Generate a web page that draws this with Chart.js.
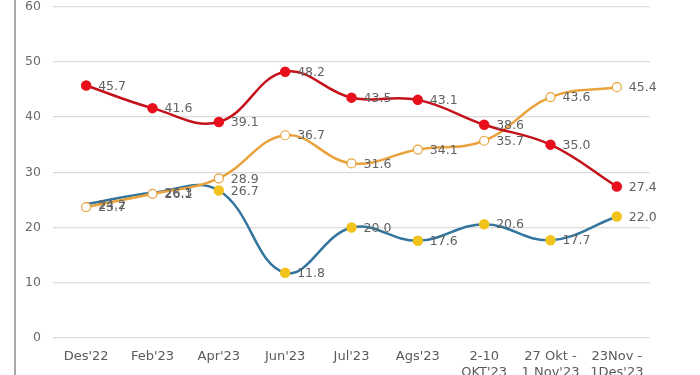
<!DOCTYPE html>
<html>
<head>
<meta charset="utf-8">
<script src="https://cdn.jsdelivr.net/npm/chart.js@4"></script>
<style>
  html, body { margin: 0; padding: 0; background: #fff; }
  #wrap { position: relative; width: 700px; height: 375px; overflow: hidden; }
</style>
</head>
<body>
<div id="wrap"><canvas id="grafica" width="700" height="375"></canvas></div>
<script>
// datos
const categorias = ["Des'22", "Feb'23", "Apr'23", "Jun'23", "Jul'23", "Ags'23",
    ["2-10", "OKT'23"], ["27 Okt -", "1 Nov'23"], ["23Nov -", "1Des'23"]];
const serieMerah = [45.7, 41.6, 39.1, 48.2, 43.5, 43.1, 38.6, 35.0, 27.4];
const serieOranye = [23.7, 26.1, 28.9, 36.7, 31.6, 34.1, 35.7, 43.6, 45.4];
const serieBiru = [24.2, 26.3, 26.7, 11.8, 20.0, 17.6, 20.6, 17.7, 22.0];
const ticksY = [0, 10, 20, 30, 40, 50, 60];

// etiquetas de valor a la derecha de cada punto
const etiquetas = {
    id: 'etiquetas',
    afterDatasetsDraw(chart) {
        const ctx = chart.ctx;
        ctx.save();
        ctx.font = '12.5px "DejaVu Sans"';
        ctx.fillStyle = '#626262';
        ctx.textBaseline = 'middle';
        ctx.textAlign = 'left';
        chart.data.datasets.forEach((ds, i) => {
            chart.getDatasetMeta(i).data.forEach((pt, j) => {
                ctx.fillText(ds.data[j].toFixed(1), pt.x + 12, pt.y + 1);
            });
        });
        ctx.restore();
    }
};

// linea gris vertical del borde izquierdo
const borde = {
    id: 'borde',
    beforeDraw(chart) {
        const ctx = chart.ctx;
        ctx.save();
        ctx.fillStyle = '#fff';
        ctx.fillRect(0, 0, chart.width, chart.height);
        ctx.fillStyle = '#a9a9a9';
        ctx.fillRect(14, 0, 2, chart.height);
        ctx.restore();
    }
};

const ctx = document.getElementById('grafica').getContext('2d');
new Chart(ctx, {
    type: 'line',
    data: {
        labels: categorias,
        datasets: [{
            data: serieMerah,
            borderColor: '#c4111a',
            pointBackgroundColor: '#e8101c',
            pointBorderColor: '#e8101c',
            pointRadius: 4,
            borderWidth: 2.5,
            tension: 0.4
        }, {
            data: serieOranye,
            borderColor: '#e9a23b',
            pointBackgroundColor: '#ffffff',
            pointBorderColor: '#e9a23b',
            pointBorderWidth: 1.2,
            pointRadius: 4.5,
            borderWidth: 2.5,
            tension: 0.4
        }, {
            data: serieBiru,
            borderColor: '#33759c',
            pointBackgroundColor: '#f2c31c',
            pointBorderColor: '#f2c31c',
            pointRadius: [0, 0, 4, 4, 4, 4, 4, 4, 4],
            borderWidth: 2.5,
            tension: 0.4
        }]
    },
    options: {
        responsive: false,
        animation: false,
        events: [],
        layout: { padding: { top: 6, right: 50, left: 0, bottom: 0 } },
        plugins: { legend: { display: false }, tooltip: { enabled: false } },
        scales: {
            x: {
                offset: true,
                grid: { display: false },
                border: { display: false },
                ticks: {
                    color: '#5a5a5a',
                    font: { family: 'DejaVu Sans', size: 13 },
                    padding: 3,
                    maxRotation: 0,
                    autoSkip: false
                },
                afterFit(scale) { scale.height = 37; }
            },
            y: {
                min: 0,
                max: 60,
                afterBuildTicks(scale) { scale.ticks = ticksY.map(v => ({ value: v })); },
                grid: { color: '#dcdcdc', lineWidth: 1.2, drawTicks: false },
                border: { display: false },
                ticks: {
                    color: '#6a6a6a',
                    font: { family: 'DejaVu Sans', size: 12.5 },
                    padding: 12
                },
                afterFit(scale) {
                    scale.width = 53;
                    scale.paddingTop = 0;
                    scale.paddingBottom = 0;
                }
            }
        }
    },
    plugins: [borde, etiquetas]
});
</script>
</body>
</html>
